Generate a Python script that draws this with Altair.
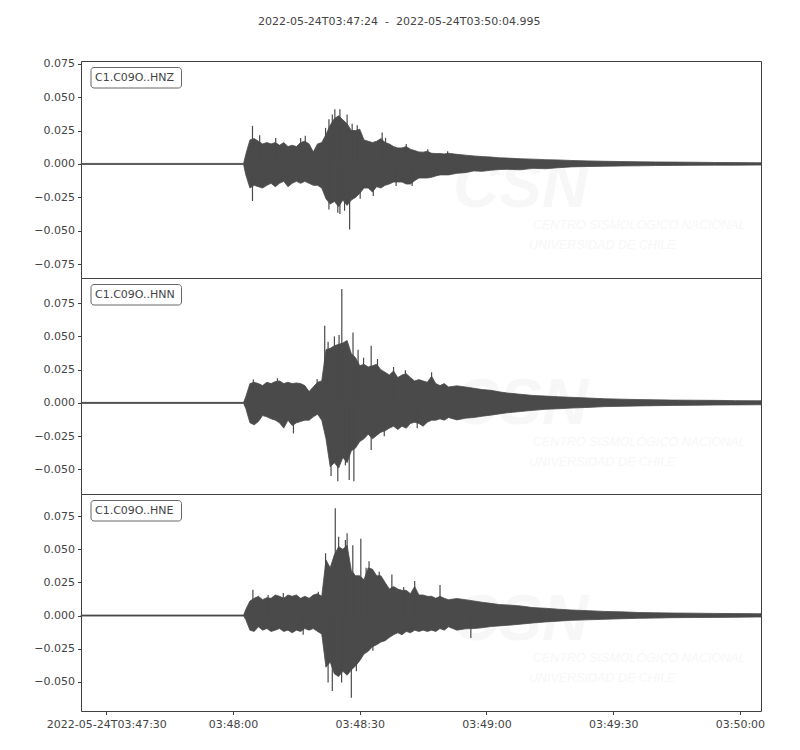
import altair as alt
import pandas as pd

TITLE = "2022-05-24T03:47:24\u00a0\u00a0-\u00a0\u00a02022-05-24T03:50:04.995"
CHANNELS = ["C1.C09O..HNZ", "C1.C09O..HNN", "C1.C09O..HNE"]

# seconds after 2022-05-24T03:47:24
T = [0, 38.5,
     39, 40, 41, 42, 43, 44, 45, 46, 47, 48, 49, 50, 51, 52, 53, 54, 55, 56, 57, 58,
     59, 60, 61, 62, 63, 64, 65, 66, 67, 68, 69, 70, 71, 72, 73, 74, 75, 76, 77, 78,
     79, 80, 81, 82, 83, 84, 85, 86, 87,
     89, 91, 93, 95, 97, 99, 101, 104, 107, 110, 113, 116, 120, 124, 128, 132, 136,
     140, 145, 150, 155, 160, 160.995]

HNZ_UP = [0.0004, 0.0004,
          0.007, 0.018, 0.019, 0.017, 0.015, 0.016, 0.015, 0.016, 0.014, 0.016, 0.013,
          0.014, 0.013, 0.016, 0.017, 0.015, 0.009, 0.015, 0.016, 0.022, 0.029, 0.034,
          0.036, 0.033, 0.030, 0.025, 0.025, 0.026, 0.018, 0.017, 0.016, 0.017, 0.019,
          0.016, 0.015, 0.013, 0.012, 0.012, 0.013, 0.011, 0.010, 0.009, 0.0088, 0.0095,
          0.008, 0.0078, 0.0078, 0.0075, 0.008,
          0.0072, 0.0066, 0.006, 0.0055, 0.0052, 0.0046, 0.0044, 0.0039, 0.0036, 0.0032,
          0.003, 0.0026, 0.0023, 0.002, 0.0018, 0.0016, 0.0015, 0.0014, 0.0013, 0.0011,
          0.001, 0.0009, 0.0009]
HNZ_LO = [-0.0004, -0.0004,
          -0.008, -0.018, -0.016, -0.017, -0.018, -0.016, -0.0145, -0.017, -0.0145, -0.013,
          -0.017, -0.0145, -0.013, -0.0145, -0.013, -0.0145, -0.016, -0.016, -0.018, -0.026,
          -0.030, -0.028, -0.032, -0.027, -0.031, -0.027, -0.025, -0.022, -0.018, -0.018,
          -0.021, -0.017, -0.018, -0.016, -0.015, -0.0135, -0.0135, -0.0135, -0.015, -0.015,
          -0.0125, -0.0105, -0.0105, -0.0105, -0.010, -0.009, -0.0082, -0.0082, -0.0082,
          -0.007, -0.0065, -0.0052, -0.0055, -0.0047, -0.0042, -0.004, -0.0044, -0.0033,
          -0.0036, -0.0028, -0.0022, -0.0019, -0.0017, -0.0015, -0.0014, -0.0012, -0.0011,
          -0.001, -0.0009, -0.0009, -0.0008, -0.0008]

HNN_UP = [0.0004, 0.0004,
          0.0045, 0.0145, 0.0155, 0.0145, 0.013, 0.0155, 0.0145, 0.016, 0.0165, 0.0145,
          0.0155, 0.0145, 0.015, 0.0145, 0.013, 0.0085, 0.012, 0.0155, 0.0165, 0.040,
          0.041, 0.043, 0.044, 0.045, 0.047, 0.037, 0.034, 0.028, 0.029, 0.027, 0.028,
          0.029, 0.025, 0.023, 0.021, 0.024, 0.019, 0.021, 0.022, 0.019, 0.0165, 0.0175,
          0.0165, 0.0155, 0.020, 0.0145, 0.013, 0.0145, 0.012,
          0.0128, 0.012, 0.011, 0.010, 0.0095, 0.0083, 0.0074, 0.0065, 0.0056, 0.0051,
          0.0046, 0.0042, 0.0037, 0.0031, 0.0028, 0.0025, 0.0023, 0.0021, 0.002, 0.0019,
          0.0017, 0.0016, 0.0016]
HNN_LO = [-0.0004, -0.0004,
          -0.004, -0.015, -0.0165, -0.014, -0.0095, -0.0105, -0.012, -0.013, -0.015,
          -0.019, -0.013, -0.017, -0.015, -0.014, -0.013, -0.013, -0.0105, -0.0085, -0.013,
          -0.027, -0.048, -0.045, -0.049, -0.041, -0.045, -0.036, -0.034, -0.029, -0.027,
          -0.0235, -0.027, -0.0245, -0.022, -0.021, -0.019, -0.0175, -0.020, -0.0175,
          -0.019, -0.0155, -0.0145, -0.0155, -0.0175, -0.0145, -0.013, -0.013, -0.012,
          -0.013, -0.011,
          -0.0128, -0.0115, -0.011, -0.010, -0.0092, -0.0083, -0.0074, -0.0065, -0.0056,
          -0.0048, -0.0044, -0.0039, -0.0034, -0.0028, -0.0026, -0.0023, -0.0021, -0.0019,
          -0.0018, -0.0016, -0.0015, -0.0014, -0.0014]

HNE_UP = [0.0004, 0.0004,
          0.0045, 0.011, 0.013, 0.0145, 0.012, 0.0135, 0.013, 0.0155, 0.0145, 0.013, 0.0155,
          0.0145, 0.0155, 0.013, 0.0145, 0.013, 0.0155, 0.0165, 0.0145, 0.042, 0.036, 0.046,
          0.052, 0.050, 0.053, 0.034, 0.030, 0.030, 0.027, 0.036, 0.035, 0.030, 0.030,
          0.025, 0.020, 0.022, 0.020, 0.019, 0.019, 0.0165, 0.022, 0.0155, 0.0155, 0.0145,
          0.0145, 0.013, 0.0145, 0.013, 0.012,
          0.0128, 0.012, 0.011, 0.010, 0.0092, 0.0083, 0.008, 0.0073, 0.006, 0.0055, 0.0048,
          0.0042, 0.0037, 0.0031, 0.0028, 0.0023, 0.0021, 0.0019, 0.0018, 0.0016, 0.0015,
          0.0014, 0.0014]
HNE_LO = [-0.0004, -0.0004,
          -0.003, -0.011, -0.012, -0.0085, -0.011, -0.0098, -0.012, -0.011, -0.0098, -0.012,
          -0.011, -0.013, -0.011, -0.012, -0.0098, -0.011, -0.0098, -0.012, -0.014, -0.039,
          -0.035, -0.044, -0.046, -0.042, -0.045, -0.041, -0.038, -0.034, -0.029, -0.027,
          -0.0235, -0.022, -0.020, -0.019, -0.0165, -0.0145, -0.013, -0.0145, -0.012, -0.013,
          -0.011, -0.012, -0.011, -0.012, -0.011, -0.012, -0.0098, -0.011, -0.0085,
          -0.011, -0.010, -0.0098, -0.0092, -0.0083, -0.0078, -0.0074, -0.0065, -0.0056,
          -0.0048, -0.0042, -0.0036, -0.0032, -0.0028, -0.0024, -0.0021, -0.0019, -0.0016,
          -0.0015, -0.0014, -0.0013, -0.0011, -0.0011]

# isolated peaks (time, amplitude)
HNZ_SPIKE_T = [40.6, 40.6, 42.3, 46.1, 52.0, 53.1, 57.9, 58.7, 58.7, 59.5, 60.1, 60.8,
               61.3, 61.3, 62.4, 63.0, 63.6, 64.2, 65.4, 66.1, 69.2, 71.3, 72.1, 74.6,
               77.0, 78.4, 82.1, 86.8]
HNZ_SPIKE_V = [0.0285, -0.0277, 0.0215, 0.0195, 0.0195, 0.021, 0.027, 0.0335, -0.034,
               0.037, 0.041, -0.0365, 0.041, -0.0375, -0.035, 0.037, -0.049, 0.030, 0.029,
               -0.026, -0.024, 0.0235, 0.0195, -0.0165, 0.015, -0.0165, 0.011, 0.0095]
HNN_SPIKE_T = [40.8, 46.5, 50.3, 55.9, 57.7, 58.5, 59.2, 60.0, 60.8, 61.1, 61.75,
               62.6, 63.5, 64.4, 64.6, 65.6, 66.9, 68.7, 68.7, 70.2, 71.8, 74.0, 76.8,
               79.6, 83.0]
HNN_SPIKE_V = [0.0175, 0.0185, -0.023, 0.018, 0.058, 0.046, -0.055, 0.050, -0.059,
               0.051, 0.0856, -0.047, -0.058, 0.053, -0.059, 0.040, 0.034, 0.043, -0.0355,
               0.033, -0.025, 0.027, 0.0245, -0.019, 0.023]
HNE_SPIKE_T = [40.7, 44.3, 47.9, 52.6, 56.2, 57.9, 58.5, 59.5, 60.2, 61.0, 61.7, 62.6,
               63.0, 64.0, 64.35, 65.2, 66.25, 67.5, 68.2, 69.1, 70.6, 73.6, 76.4, 79.0,
               85.0, 92.3]
HNE_SPIKE_V = [0.0195, 0.0155, 0.017, -0.0145, 0.018, 0.047, -0.0505, -0.057, 0.081,
               0.0595, -0.0505, 0.057, 0.062, -0.062, 0.053, -0.042, 0.058, 0.036, 0.041,
               -0.0265, 0.033, 0.031, 0.0215, 0.026, 0.023, -0.017]

Y_DOMAINS = [[-0.0853, 0.077], [-0.0685, 0.0939], [-0.072, 0.0917]]
Y_TICKS = [[-0.075, -0.05, -0.025, 0.0, 0.025, 0.05, 0.075],
           [-0.05, -0.025, 0.0, 0.025, 0.05, 0.075],
           [-0.05, -0.025, 0.0, 0.025, 0.05, 0.075]]
HEIGHTS = [217, 216, 217]
X_DOMAIN = [0, 160.995]
X_TICKS = [6, 36, 66, 96, 126, 156]
X_LABELS = ["2022-05-24T03:47:30", "03:48:00", "03:48:30", "03:49:00", "03:49:30", "03:50:00"]
WATERMARK = ["CSN", "CENTRO SISMOLÓGICO NACIONAL", "UNIVERSIDAD DE CHILE"]

WAVE = "#4a4a4a"
TEXT = "#444444"
FRAME = "#404040"
WM = "#f7f7f7"
FONT = "DejaVu Sans"

label_expr = "''"
for v, lab in reversed(list(zip(X_TICKS, X_LABELS))):
    label_expr = f"datum.value == {v} ? '{lab}' : ({label_expr})"

traces = [(HNZ_UP, HNZ_LO, HNZ_SPIKE_T, HNZ_SPIKE_V),
          (HNN_UP, HNN_LO, HNN_SPIKE_T, HNN_SPIKE_V),
          (HNE_UP, HNE_LO, HNE_SPIKE_T, HNE_SPIKE_V)]

wm_df = pd.DataFrame({"txt": WATERMARK})

panels = []
for i, (up, lo, st, sv) in enumerate(traces):
    df = pd.DataFrame({"t": T, "up": up, "lo": lo})
    sdf = pd.DataFrame({"t": st, "v": sv})
    last = i == len(traces) - 1
    xaxis = alt.Axis(values=X_TICKS, labelExpr=label_expr, tickSize=3.5, tickColor=FRAME,
                     labelFont=FONT, labelFontSize=11, labelColor=TEXT, labelPadding=4,
                     labelOverlap=False, grid=False, domain=False, title=None) if last else None
    xscale = alt.Scale(domain=X_DOMAIN, nice=False, zero=False)
    yscale = alt.Scale(domain=Y_DOMAINS[i], nice=False, zero=False)
    yaxis = alt.Axis(values=Y_TICKS[i], format=".3f", tickSize=3.5, tickColor=FRAME,
                     labelFont=FONT, labelFontSize=11, labelColor=TEXT, labelPadding=3,
                     labelOverlap=False, grid=False, domain=False, title=None)

    wm_big = alt.Chart(wm_df.iloc[[0]]).mark_text(
        font="Liberation Sans", fontSize=64, fontWeight="bold", fontStyle="italic",
        color=WM, align="left", baseline="alphabetic").encode(
        x=alt.value(372), y=alt.value(146), text="txt:N")
    wm_l1 = alt.Chart(wm_df.iloc[[1]]).mark_text(
        font="Liberation Sans", fontSize=12.5, fontStyle="italic", color=WM,
        align="left", baseline="alphabetic").encode(
        x=alt.value(452), y=alt.value(168), text="txt:N")
    wm_l2 = alt.Chart(wm_df.iloc[[2]]).mark_text(
        font="Liberation Sans", fontSize=12.5, fontStyle="italic", color=WM,
        align="left", baseline="alphabetic").encode(
        x=alt.value(448), y=alt.value(188), text="txt:N")

    area = alt.Chart(df).mark_area(color=WAVE, stroke=WAVE, strokeWidth=0.8,
                                   opacity=1).encode(
        x=alt.X("t:Q", scale=xscale, axis=xaxis),
        y=alt.Y("up:Q", scale=yscale, axis=yaxis), y2="lo:Q")
    spikes = alt.Chart(sdf).mark_rule(color=WAVE, strokeWidth=1.2).encode(
        x=alt.X("t:Q", scale=xscale, axis=xaxis),
        y=alt.Y("v:Q", scale=yscale, axis=yaxis), y2=alt.datum(0))

    lab = pd.DataFrame({"name": [CHANNELS[i]]})
    box = alt.Chart(lab).mark_rect(fill="white", stroke="#666666", strokeWidth=1,
                                   cornerRadius=3).encode(
        x=alt.value(10), x2=alt.value(100.5), y=alt.value(6.5), y2=alt.value(27))
    txt = alt.Chart(lab).mark_text(font=FONT, fontSize=11, color=TEXT, align="left",
                                   baseline="middle").encode(
        x=alt.value(14), y=alt.value(17), text="name:N")

    layer = alt.layer(wm_big, wm_l1, wm_l2, area, spikes, box, txt).properties(
        width=680, height=HEIGHTS[i])
    panels.append(layer)

chart = alt.vconcat(*panels, spacing=0, bounds="flush").properties(
    title=alt.TitleParams(TITLE, font=FONT, fontSize=11, fontWeight="normal", color=TEXT,
                          anchor="middle", offset=30),
    padding={"left": 25, "top": 8, "right": 10, "bottom": 10},
    background="white",
).configure_view(stroke=FRAME, strokeWidth=1)

chart.save("out.html", embed_options={"renderer": "svg", "actions": False})
